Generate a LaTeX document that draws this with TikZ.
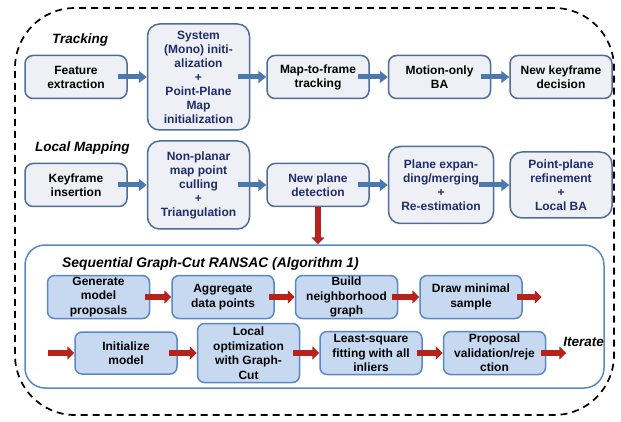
\documentclass[tikz,border=0pt]{standalone}
\usepackage{fontspec}
\setmainfont{Liberation Sans}
\usetikzlibrary{arrows.meta,positioning}
\definecolor{boxfill}{HTML}{EEF0F5}
\definecolor{boxline}{HTML}{4D6D9A}
\definecolor{navy}{HTML}{1F2D6A}
\definecolor{algfill}{HTML}{C6D9F1}
\definecolor{algline}{HTML}{5A88C6}
\definecolor{blockblue}{HTML}{4C78B2}
\definecolor{blockred}{HTML}{B5231A}
\tikzset{
  tbox/.style={draw=boxline, fill=boxfill, line width=1.5pt, rounded corners=8pt,
    minimum width=102pt, minimum height=43pt, align=center, inner sep=2pt,
    font=\bfseries\fontsize{12}{14}\selectfont},
  tallbox/.style={tbox, rounded corners=12pt},
  abox/.style={draw=algline, fill=algfill, line width=1.5pt, rounded corners=7pt,
    minimum width=102pt, minimum height=43pt, align=center, inner sep=1pt,
    font=\bfseries\fontsize{12}{14.5}\selectfont},
  lbl/.style={font=\bfseries\itshape\fontsize{13.5}{16}\selectfont, inner sep=0pt},
  barrow/.style={blockblue, line width=5pt, -{Triangle[length=8pt,width=12pt]}},
  rarrow/.style={blockred, line width=6pt, -{Triangle[length=7pt,width=13pt]}}
}

\begin{document}
\begin{tikzpicture}
  \useasboundingbox (0pt,0pt) rectangle (621pt,-422pt);

  % the two big frames
  \node[draw, dashed, dash pattern=on 7pt off 5pt, line width=1.7pt, rounded corners=60pt,
    minimum width=599pt, minimum height=407pt] (outer) at (314.5pt,-211.5pt) {};
  \node[draw=algline, line width=1.5pt, rounded corners=20pt,
    minimum width=579pt, minimum height=143pt] (rsc) at (314.5pt,-316.5pt) {};

  % tracking thread
  \node[lbl, anchor=west] (trk) at (52pt,-40pt) {Tracking};
  \node[tbox] (feat) at (76pt,-77pt) {Feature\\extraction};
  \node[tallbox, text=navy, minimum height=106pt] (sys) [right=19pt of feat]
    {System\\(Mono) initi-\\alization\\+\\Point-Plane\\Map\\initialization};
  \node[tbox] (m2f) [right=16pt of sys] {Map-to-frame\\tracking};
  \node[tbox] (moba) [right=18pt of m2f] {Motion-only\\BA};
  \node[tbox] (nkf) [right=18pt of moba] {New keyframe\\decision};

  \draw[barrow] ([xshift=-10pt]feat.east) -- (feat.east -| sys.west);
  \draw[barrow] ([xshift=-12pt]sys.east) -- (sys.east -| m2f.west);
  \draw[barrow] ([xshift=-12pt]m2f.east) -- (m2f.east -| moba.west);
  \draw[barrow] ([xshift=-10pt]moba.east) -- (moba.east -| nkf.west);

  % local mapping thread
  \node[lbl, anchor=west] (lmp) at (35pt,-148pt) {Local Mapping};
  \node[tbox] (kfi) at (76pt,-185pt) {Keyframe\\insertion};
  \node[tallbox, text=navy, minimum height=88pt] (npm) [right=19pt of kfi]
    {Non-planar\\map point\\culling\\+\\Triangulation};
  \node[tbox, text=navy] (npd) [right=16pt of npm] {New plane\\detection};
  \node[tallbox, text=navy, minimum width=105pt, minimum height=77pt] (pem)
    [right=18pt of npd] {Plane expan-\\ding/merging\\+\\Re-estimation};
  \node[tallbox, text=navy, minimum height=66pt] (ppr) [right=15pt of pem]
    {Point-plane\\refinement\\+\\Local BA};

  \draw[barrow] ([xshift=-10pt]kfi.east) -- (kfi.east -| npm.west);
  \draw[barrow] ([xshift=-12pt]npm.east |- npd.west) -- (npd.west);
  \draw[barrow] ([xshift=-12pt]npd.east) -- (npd.east -| pem.west);
  \draw[barrow] ([xshift=-15pt]pem.east) -- (pem.east -| ppr.west);

  \draw[rarrow] (npd.south) -- (npd.south |- rsc.north);

  % graph-cut ransac loop
  \node[lbl, anchor=west, font=\bfseries\itshape\fontsize{13.9}{16}\selectfont] (ttl)
    at (62pt,-264pt) {Sequential Graph-Cut RANSAC (Algorithm 1)};
  \node[abox] (gen) at (98.5pt,-297pt) {Generate\\model\\proposals};
  \node[abox] (agg) [right=21pt of gen] {Aggregate\\data points};
  \node[abox] (bng) [right=20pt of agg] {Build\\neighborhood\\graph};
  \node[abox] (dms) [right=21pt of bng] {Draw minimal\\sample};
  \coordinate[right=19pt of dms.east] (loopout);

  \node[abox, minimum height=42pt] (ini) at (126pt,-353pt) {Initialize\\model};
  \node[abox, minimum height=59pt] (log) [right=19pt of ini]
    {Local\\optimization\\with Graph-\\Cut};
  \node[abox] (lsq) [right=19pt of log] {Least-square\\fitting with all\\inliers};
  \node[abox] (pvr) [right=20pt of lsq] {Proposal\\validation/reje\\ction};
  \coordinate[left=26pt of ini.west] (loopin);
  \node[lbl, anchor=west] (itr) [right=17pt of pvr.east, yshift=11pt] {Iterate};

  \draw[rarrow] ([xshift=-5pt]gen.east) -- (gen.east -| agg.west);
  \draw[rarrow] ([xshift=-6pt]agg.east) -- (agg.east -| bng.west);
  \draw[rarrow] ([xshift=-6pt]bng.east) -- (bng.east -| dms.west);
  \draw[rarrow] ([xshift=-6pt]dms.east) -- (loopout);
  \draw[rarrow] (loopin) -- (ini.west);
  \draw[rarrow] ([xshift=-9pt]ini.east) -- (ini.east -| log.west);
  \draw[rarrow] ([xshift=-7pt]log.east) -- (log.east -| lsq.west);
  \draw[rarrow] ([xshift=-6pt]lsq.east) -- (lsq.east -| pvr.west);
  \draw[rarrow] ([xshift=-5pt]pvr.east) -- ([xshift=20pt]pvr.east);
\end{tikzpicture}
\end{document}
